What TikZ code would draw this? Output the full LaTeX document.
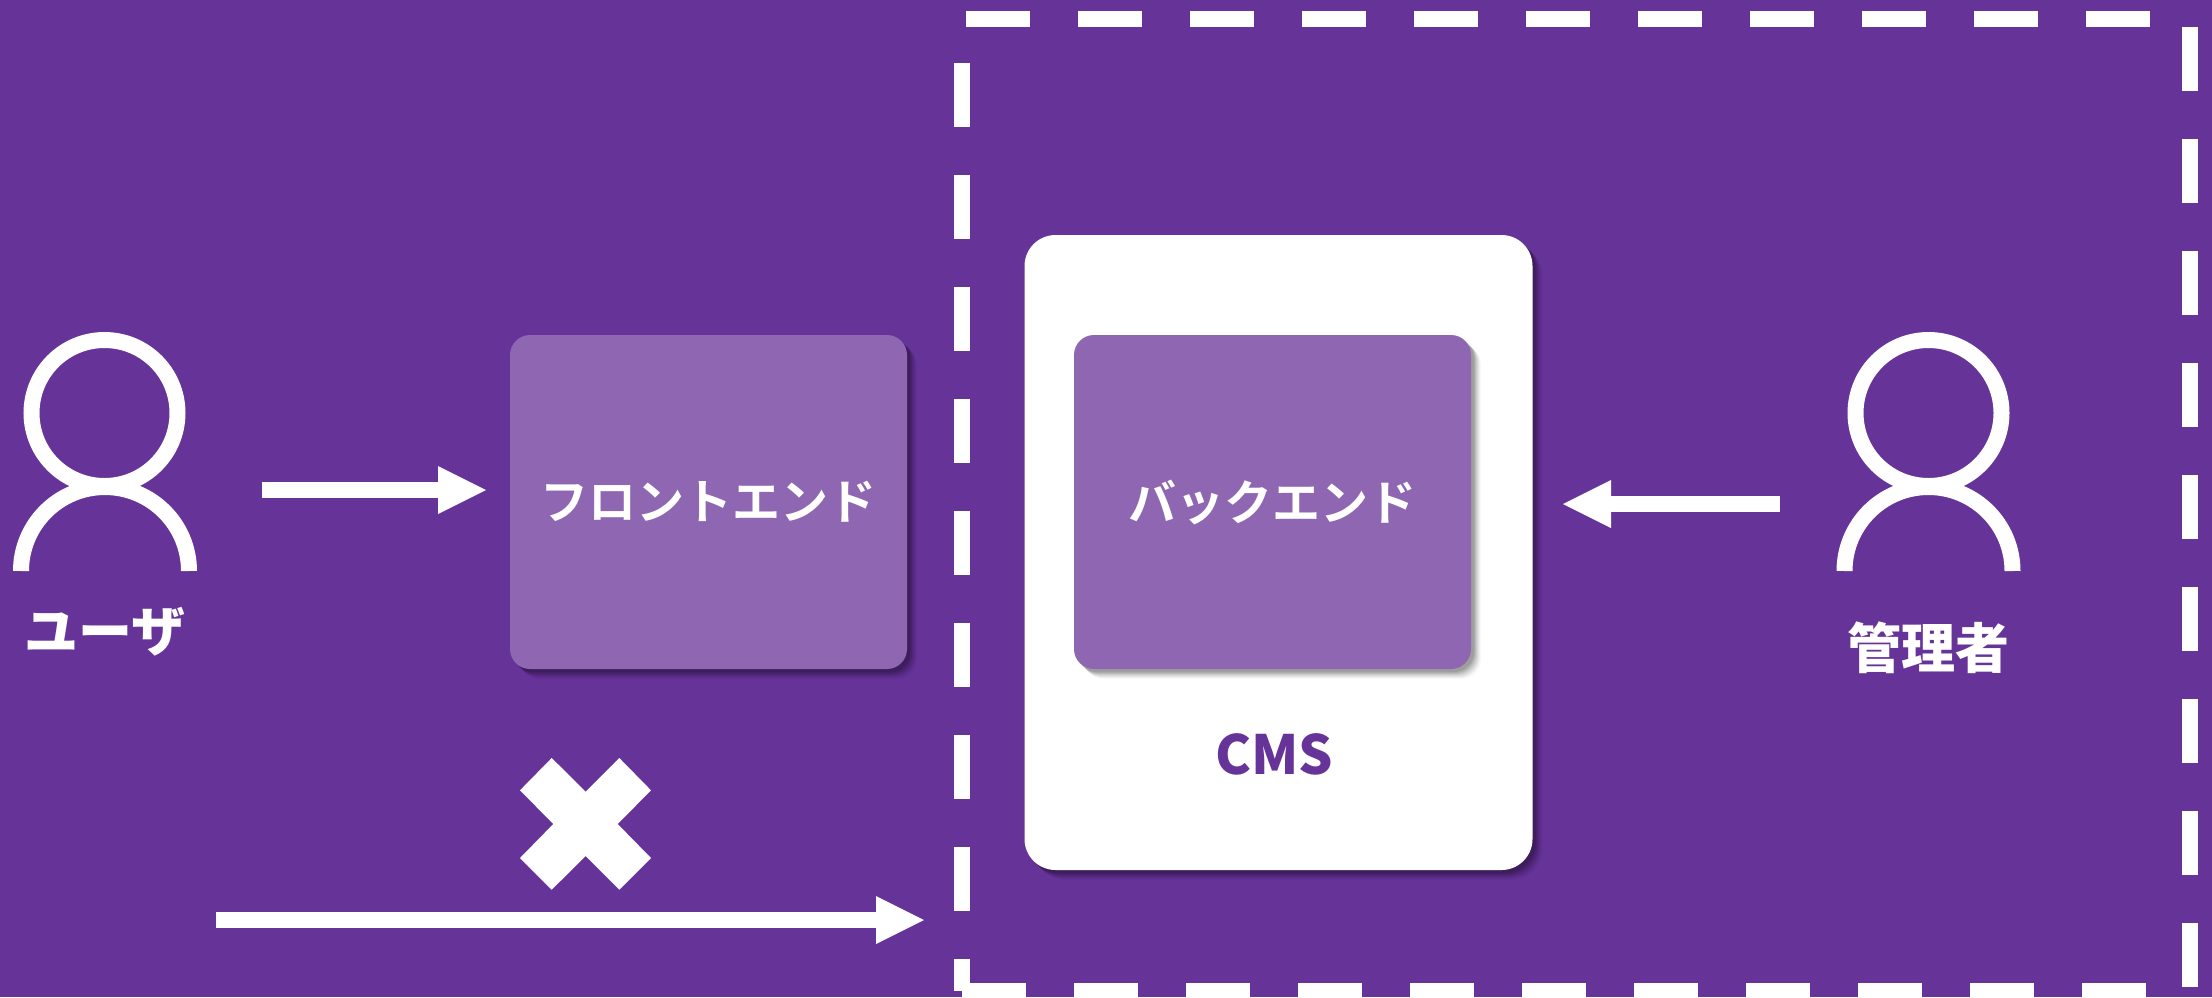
\documentclass[tikz,border=0pt]{standalone}
\usepackage{fontspec}
\usetikzlibrary{arrows.meta,shadows}
\setmainfont{Noto Sans CJK JP}
\newfontfamily\jpbold{Noto Sans CJK JP Bold}
\newfontfamily\jpblack{Noto Sans CJK JP Black}
\definecolor{bgpurple}{HTML}{663399}
\definecolor{boxpurple}{HTML}{8E66B1}
\tikzset{
  softshadow/.style={
    general shadow={shadow xshift=10pt,shadow yshift=-10pt,fill=black,opacity=.025},
    general shadow={shadow xshift=9pt,shadow yshift=-9pt,fill=black,opacity=.035},
    general shadow={shadow xshift=8pt,shadow yshift=-8pt,fill=black,opacity=.045},
    general shadow={shadow xshift=7pt,shadow yshift=-7pt,fill=black,opacity=.05},
    general shadow={shadow xshift=6pt,shadow yshift=-6pt,fill=black,opacity=.06},
    general shadow={shadow xshift=5pt,shadow yshift=-5pt,fill=black,opacity=.07},
    general shadow={shadow xshift=4pt,shadow yshift=-4pt,fill=black,opacity=.08},
    general shadow={shadow xshift=3pt,shadow yshift=-3pt,fill=black,opacity=.09}},
  panel/.style={rectangle,softshadow,inner sep=0pt,outer sep=0pt,line width=0pt},
  cmspanel/.style={panel,fill=white,rounded corners=31pt,minimum width=508pt,minimum height=635pt},
  tierbox/.style={panel,fill=boxpurple,rounded corners=20pt,text=white,
    minimum width=397pt,minimum height=334pt,
    font={\jpbold\fontsize{48}{48}\selectfont}},
  boundary/.style={draw=white,line width=16pt,dash pattern=on 64pt off 48pt},
  personpart/.style={draw=white,line width=16pt},
  head/.style={personpart,circle,inner sep=0pt,outer sep=0pt,minimum size=146pt},
  flow/.style={draw=white,line width=16pt,-{Triangle[length=48pt,width=48pt,line width=0pt,sep=0pt]}},
  actorlabel/.style={text=white,inner sep=0pt,font={\jpblack\fontsize{54}{54}\selectfont}},
  cmslabel/.style={text=bgpurple,inner sep=0pt,font={\jpblack\fontsize{54}{54}\selectfont}},
}
\begin{document}
\begin{tikzpicture}[x=1pt,y=-1pt]
  \useasboundingbox (0,0) rectangle (2212,997);
  \fill[bgpurple] (0,0) rectangle (2212,997);

  % dashed boundary
  \coordinate (tl) at (966,19);   \coordinate (tr) at (2150,19);
  \coordinate (rt) at (2190,27);  \coordinate (rb) at (2190,987);
  \coordinate (lt) at (962,63);   \coordinate (lb) at (962,991);
  \coordinate (bl) at (962,991);  \coordinate (br) at (2146,991);
  \draw[boundary] (tl) -- (tr);
  \draw[boundary] (rt) -- (rb);
  \draw[boundary] (lt) -- (lb);
  \draw[boundary] (bl) -- (br);

  % boxes
  \node[tierbox] (front) at (708.5,502) {フロントエンド};
  \node[cmspanel] (cms) at (1278.5,552.5) {};
  \node[tierbox] (back) at (1272.5,502) {バックエンド};
  \node[cmslabel] (cmstext) at (1274.5,754) {CMS};

  % user
  \node[head] (userhead) at (104.5,413) {};
  \coordinate (userbody) at (21,571);
  \draw[personpart] (userbody) arc[start angle=180,end angle=0,radius=84pt];
  \node[actorlabel] (usertext) at (105,632) {ユーザ};

  % admin
  \node[head] (adminhead) at (1928.5,413) {};
  \coordinate (adminbody) at (1844.5,571);
  \draw[personpart] (adminbody) arc[start angle=180,end angle=0,radius=84pt];
  \node[actorlabel] (admintext) at (1928.5,648) {管理者};

  % arrows
  \coordinate (a1s) at (261.5,490); \coordinate (a1e) at (486,490);
  \draw[flow] (a1s) -- (a1e);
  \coordinate (a2s) at (1780,504); \coordinate (a2e) at (1563,504);
  \draw[flow] (a2s) -- (a2e);
  \coordinate (a3s) at (216,920); \coordinate (a3e) at (924,920);
  \draw[flow] (a3s) -- (a3e);

  % blocked mark
  \fill[white] (551.7,758) -- (585.7,791.7) -- (619.3,758) -- (651,790.3) -- (617.7,824)
    -- (651,858) -- (619.3,889.7) -- (585.7,856) -- (551.7,889.7) -- (520,858)
    -- (553.3,824) -- (520,790.3) -- cycle;
\end{tikzpicture}
\end{document}
